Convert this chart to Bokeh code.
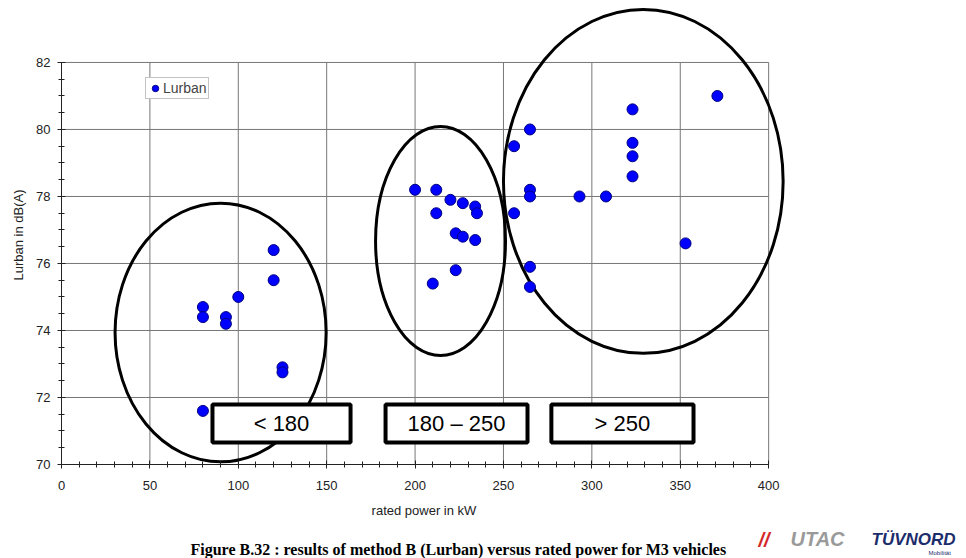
from bokeh.plotting import figure
from bokeh.models import Range1d, FixedTicker, Legend, LegendItem, Label, ColumnDataSource
from bokeh.layouts import column
from bokeh.core.properties import value
from bokeh.embed import file_html
from bokeh.resources import INLINE

# ---- data ----
power_kw = [80, 80, 80, 93, 93, 100, 120, 120, 125, 125,
            200, 212, 220, 227, 234, 235, 212, 223, 227, 234, 223, 210,
            256, 256, 265, 265, 265, 265, 265, 293, 308, 323, 323, 323, 323, 353, 371]
lurban = [74.7, 74.4, 71.6, 74.4, 74.2, 75.0, 76.4, 75.5, 72.9, 72.75,
          78.2, 78.2, 77.9, 77.8, 77.7, 77.5, 77.5, 76.9, 76.8, 76.7, 75.8, 75.4,
          79.5, 77.5, 80.0, 78.2, 78.0, 75.9, 75.3, 78.0, 78.0, 80.6, 79.6, 79.2, 78.6, 76.6, 81.0]

x_ticks = [0, 50, 100, 150, 200, 250, 300, 350, 400]
x_minor = list(range(0, 401, 10))
y_ticks = [70, 72, 74, 76, 78, 80, 82]
y_minor = [70 + 0.5 * i for i in range(25)]

group_labels = ["< 180", "180 \u2013 250", "> 250"]

# group ellipses (centre x, centre y, width kW, height dB)
ell_x = [90, 214.4, 329.1]
ell_y = [73.94, 76.67, 78.45]
ell_w = [119.4, 73.5, 158.2]
ell_h = [7.72, 6.84, 10.27]

# label boxes
box_left = [85.4, 183.3, 277.1]
box_right = [163.5, 263.6, 357.5]
box_bottom = [70.66, 70.66, 70.66]
box_top = [71.79, 71.79, 71.79]

caption = "Figure B.32 : results of method B (Lurban) versus rated power for M3 vehicles"

FONT = "Liberation Sans"

p = figure(frame_width=725, frame_height=459,
           x_range=Range1d(0, 410.1), y_range=Range1d(70, 83.70),
           output_backend="svg", toolbar_location=None,
           min_border_left=61, min_border_right=180, min_border_top=5, min_border_bottom=61,
           background_fill_color="white", border_fill_color="white")
p.frame_align = False
p.outline_line_color = None
p.xgrid.visible = False
p.ygrid.visible = False

# grid lines limited to the axes bounds
gx0 = [t for t in x_ticks if t > 0]
p.segment(x0=gx0, y0=[y_ticks[0]] * len(gx0), x1=gx0, y1=[y_ticks[-1]] * len(gx0),
          line_color="#777777", line_width=1)
gy0 = [t for t in y_ticks if t > 70]
p.segment(x0=[x_ticks[0]] * len(gy0), y0=gy0, x1=[x_ticks[-1]] * len(gy0), y1=gy0,
          line_color="#777777", line_width=1)

# axes
for ax, ticks, minor in ((p.xaxis[0], x_ticks, x_minor), (p.yaxis[0], y_ticks, y_minor)):
    ax.ticker = FixedTicker(ticks=ticks, minor_ticks=minor)
    ax.axis_line_color = "#222222"
    ax.major_tick_line_color = "#222222"
    ax.minor_tick_line_color = "#222222"
    ax.major_tick_in = 4
    ax.major_tick_out = 4
    ax.minor_tick_in = 3
    ax.minor_tick_out = 3
    ax.major_label_text_font = FONT
    ax.major_label_text_font_size = "13px"
    ax.major_label_text_color = "#222222"
    ax.axis_label_text_font = FONT
    ax.axis_label_text_font_size = "13px"
    ax.axis_label_text_font_style = "normal"
    ax.axis_label_text_color = "#222222"

p.xaxis.bounds = (0, 400)
p.yaxis.bounds = (70, 82)
p.xaxis.axis_label = "rated power in kW"
p.yaxis.axis_label = "Lurban in dB(A)"
p.xaxis.major_label_standoff = 12
p.xaxis.axis_label_standoff = 10
p.yaxis.major_label_standoff = 7
p.yaxis.axis_label_standoff = 7

# ellipses
p.ellipse(x=ell_x, y=ell_y, width=ell_w, height=ell_h,
          fill_color=None, line_color="black", line_width=3)

# points
src = ColumnDataSource(dict(x=power_kw, y=lurban))
pts = p.scatter("x", "y", source=src, size=11, marker="circle",
                fill_color="#0000ff", line_color="#000080", line_width=1)

# group label boxes
p.quad(left=box_left, right=box_right, bottom=box_bottom, top=box_top,
       fill_color="white", line_color="black", line_width=4)
bsrc = ColumnDataSource(dict(x=[(a + b) / 2 for a, b in zip(box_left, box_right)],
                             y=[(a + b) / 2 for a, b in zip(box_bottom, box_top)],
                             t=group_labels))
p.text(x="x", y="y", text="t", source=bsrc, text_font=value(FONT), text_font_size="22px",
       text_align="center", text_baseline="middle", text_color="black")

# legend
legend = Legend(items=[LegendItem(label="Lurban", renderers=[pts])],
                location=(84, 365), label_text_font=FONT, label_text_font_size="14px",
                label_height=18, glyph_height=18, glyph_width=16, padding=1, margin=0,
                spacing=0, label_standoff=0, border_line_color="#888888",
                border_line_width=1, background_fill_alpha=1)
p.add_layout(legend, "center")

# ---- bottom strip: caption and logos ----
q = figure(width=966, height=33, x_range=Range1d(0, 966), y_range=Range1d(33, 0),
           output_backend="svg", toolbar_location=None, x_axis_type=None, y_axis_type=None,
           min_border_left=0, min_border_right=0, min_border_top=0, min_border_bottom=0,
           background_fill_color="white", border_fill_color="white")
q.frame_align = False
q.outline_line_color = None
q.xgrid.visible = False
q.ygrid.visible = False
q.add_layout(Label(x=190, y=15, text=caption,
                   text_font="Liberation Serif", text_font_size="16px", text_font_style="bold",
                   text_baseline="top", text_color="black"))
q.add_layout(Label(x=758, y=3, text="//",
                   text_font=FONT, text_font_size="20px", text_font_style="bold italic",
                   text_baseline="top", text_color="#d42a2a"))
q.add_layout(Label(x=790, y=2, text="UTAC",
                   text_font=FONT, text_font_size="20px", text_font_style="bold italic",
                   text_baseline="top", text_color="#9a9a9a"))
q.add_layout(Label(x=871, y=4, text="T\u00dcVNORD",
                   text_font=FONT, text_font_size="17px", text_font_style="bold italic",
                   text_baseline="top", text_color="#1c2d6b"))
q.add_layout(Label(x=928, y=24, text="Mobilit\u00e4t",
                   text_font=FONT, text_font_size="6px",
                   text_baseline="top", text_color="#1c2d6b"))

layout = column(p, q, spacing=0)
open("out.html", "w").write(file_html(layout, INLINE))
